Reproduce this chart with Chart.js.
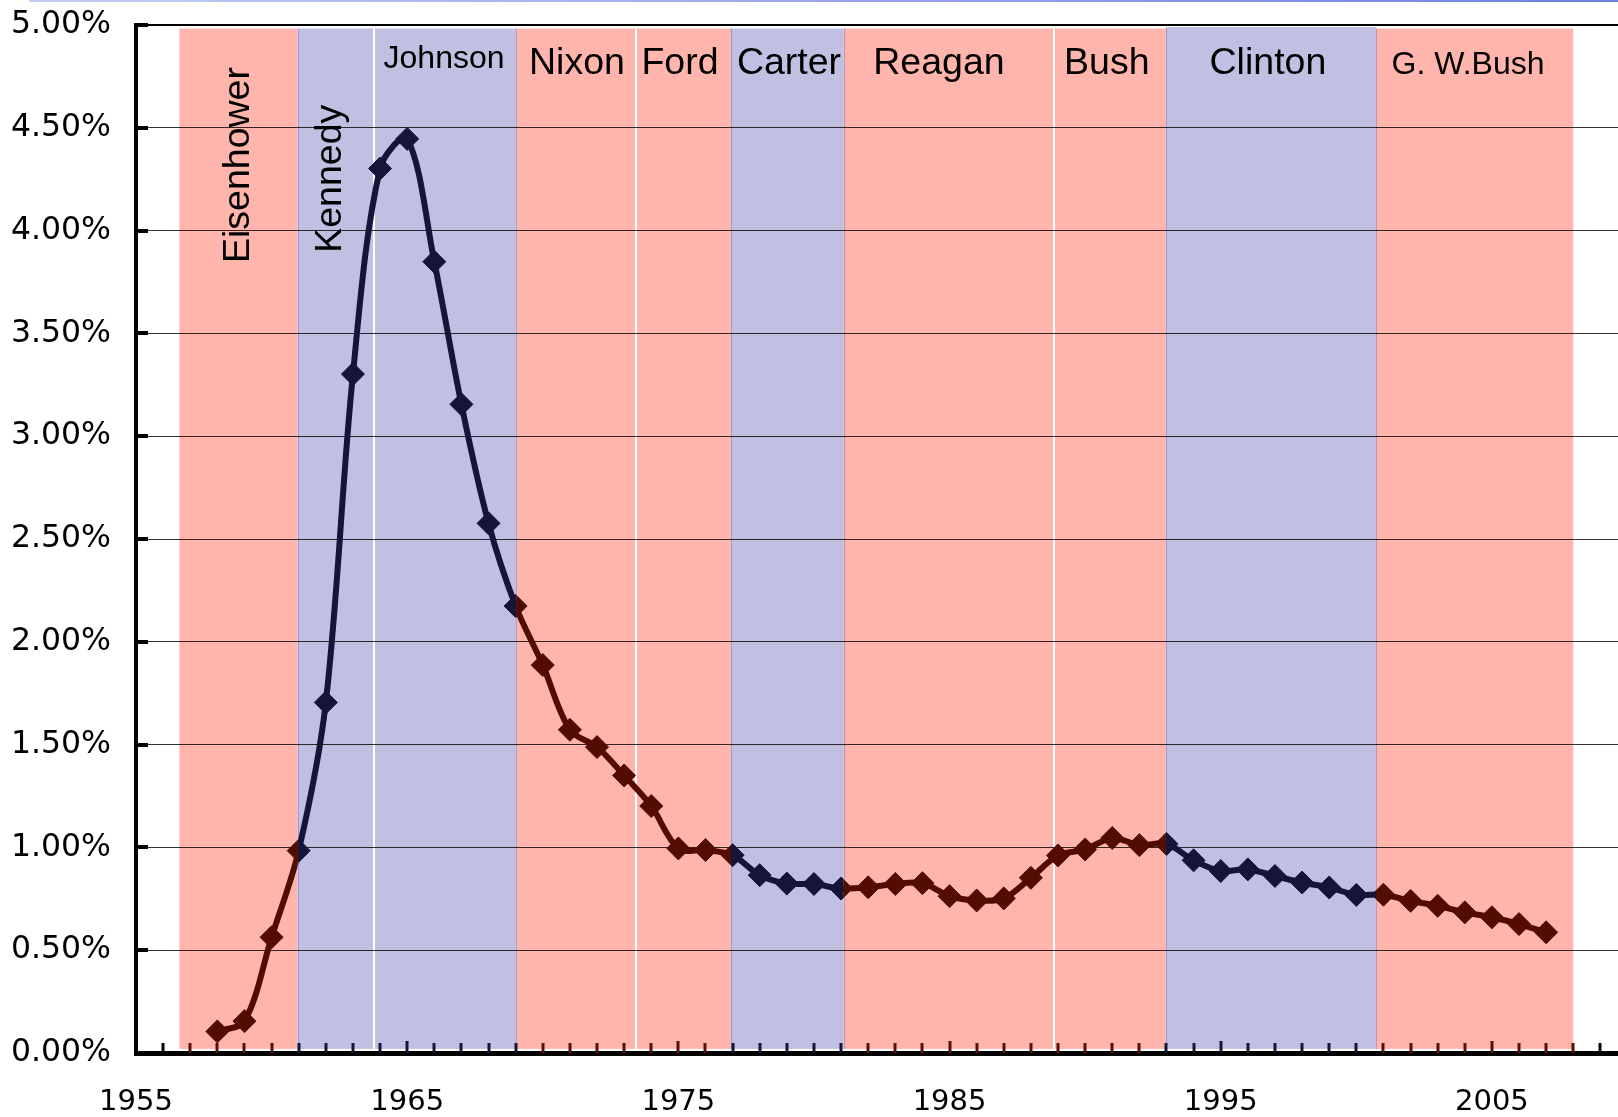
<!DOCTYPE html>
<html>
<head>
<meta charset="utf-8">
<script src="https://cdn.jsdelivr.net/npm/chart.js@4.4.1/dist/chart.umd.min.js"></script>
<style>
html,body{margin:0;padding:0;background:#fff;}
canvas{display:block;}
</style>
</head>
<body>
<canvas id="c" width="1618" height="1117"></canvas>
<script>
// ---- data ----
const years = [1958,1959,1960,1961,1962,1963,1964,1965,1966,1967,1968,1969,1970,1971,1972,1973,1974,1975,1976,1977,1978,1979,1980,1981,1982,1983,1984,1985,1986,1987,1988,1989,1990,1991,1992,1993,1994,1995,1996,1997,1998,1999,2000,2001,2002,2003,2004,2005,2006,2007];
const rates = [0.105,0.155,0.563,0.984,1.705,3.302,4.302,4.446,3.849,3.155,2.576,2.174,1.887,1.572,1.488,1.350,1.201,0.995,0.987,0.962,0.865,0.824,0.822,0.800,0.806,0.822,0.826,0.763,0.742,0.752,0.852,0.961,0.990,1.046,1.011,1.017,0.937,0.885,0.893,0.861,0.829,0.805,0.769,0.770,0.740,0.716,0.684,0.660,0.627,0.587];

const presidents = ['Eisenhower','Kennedy','Johnson','Nixon','Ford','Carter','Reagan','Bush','Clinton','G. W.Bush'];
const parties    = ['R','D','D','R','R','D','R','R','D','R'];
const termStart  = [1956.60,1960.96,1963.78,1969.03,1973.44,1976.94,1981.10,1988.87,1992.98,2000.73];
const termEnd    = [1960.96,1963.78,1969.03,1973.44,1976.94,1981.10,1988.87,1992.98,2000.73,2008.00];

const yTickValues = [0,0.5,1,1.5,2,2.5,3,3.5,4,4.5,5];
const yTickLabels = ['0.00%','0.50%','1.00%','1.50%','2.00%','2.50%','3.00%','3.50%','4.00%','4.50%','5.00%'];
const xTickValues = [1955,1965,1975,1985,1995,2005];
const xTickLabels = ['1955','1965','1975','1985','1995','2005'];

// ---- styling ----
const RED_BAND = '#ffb5ab';
const BLUE_BAND = '#c0c0e2';
const RED_LINE = '#520c00';
const BLUE_LINE = '#15153a';
const X_MIN = 1955, X_MAX = 2009.65;

const labelLayout = {
  'Eisenhower': {x:1959.17, y:4.319, rot:true,  size:37.5},
  'Kennedy':    {x:1962.56, y:4.252, rot:true,  size:37.5},
  'Johnson':    {x:1966.36, y:4.791, rot:false, size:32},
  'Nixon':      {x:1971.26, y:4.762, rot:false, size:37.5},
  'Ford':       {x:1975.06, y:4.762, rot:false, size:37.5},
  'Carter':     {x:1979.08, y:4.762, rot:false, size:37.5},
  'Reagan':     {x:1984.61, y:4.762, rot:false, size:37.5},
  'Bush':       {x:1990.80, y:4.762, rot:false, size:37.5},
  'Clinton':    {x:1996.74, y:4.762, rot:false, size:37.5},
  'G. W.Bush':  {x:2004.12, y:4.762, rot:false, size:32}
};
const bandTopValue = p => p === 'Clinton' ? 4.99 : 4.983;
const bandBottomValue = 0.02;

function partyAt(year){
  for (let i=0;i<termStart.length;i++){ if (year>=termStart[i] && year<=termEnd[i]) return parties[i]; }
  return null;
}

const bandsPlugin = {
  id:'bands',
  beforeDraw(chart){
    const {ctx, scales:{x,y}} = chart;
    ctx.save();
    const g = ctx.createLinearGradient(29,0,1618,0);
    g.addColorStop(0,'#c4cbf3'); g.addColorStop(1,'#7080e2');
    ctx.fillStyle = g; ctx.fillRect(29,0,1618-29,2);
    for (let i=0;i<presidents.length;i++){
      const x0 = x.getPixelForValue(termStart[i]), x1 = x.getPixelForValue(termEnd[i]);
      const y0 = y.getPixelForValue(bandTopValue(presidents[i])), y1 = y.getPixelForValue(bandBottomValue);
      ctx.fillStyle = parties[i]==='R' ? RED_BAND : BLUE_BAND;
      ctx.fillRect(x0, y0, x1-x0, y1-y0);
    }
    for (let i=1;i<presidents.length;i++){
      const bx = Math.round(x.getPixelForValue(termStart[i]));
      const y0 = y.getPixelForValue(Math.min(bandTopValue(presidents[i]),bandTopValue(presidents[i-1])));
      const y1 = y.getPixelForValue(bandBottomValue);
      if (parties[i]===parties[i-1]){
        ctx.fillStyle = '#ffffff'; ctx.fillRect(bx-1, y0, 2, y1-y0);
      } else {
        ctx.fillStyle = 'rgba(120,100,175,0.45)'; ctx.fillRect(bx, y0, 1, y1-y0);
      }
    }
    ctx.restore();
  },
  beforeDatasetsDraw(chart){
    const {ctx, scales:{x,y}} = chart;
    ctx.save();
    ctx.fillStyle = '#000';
    presidents.forEach(name=>{
      const L = labelLayout[name];
      const px = x.getPixelForValue(L.x), py = y.getPixelForValue(L.y);
      ctx.font = L.size + 'px "Liberation Sans", Arial, sans-serif';
      ctx.textAlign = 'center';
      ctx.textBaseline = 'alphabetic';
      if (L.rot){
        ctx.save(); ctx.translate(px, py); ctx.rotate(-Math.PI/2);
        ctx.fillText(name, 0, 0); ctx.restore();
      } else {
        ctx.fillText(name, px, py);
      }
    });
    ctx.fillStyle = '#000';
    const ax = chart.chartArea.left;
    yTickValues.forEach(v=>{
      const py = Math.round(y.getPixelForValue(v));
      ctx.fillRect(ax, py-2, 12, 4);
    });
    const by = chart.chartArea.bottom;
    for (let yr=Math.ceil(X_MIN)+1; yr<=Math.floor(X_MAX); yr++){
      const px = Math.round(x.getPixelForValue(yr));
      const p = partyAt(yr);
      ctx.fillStyle = p==='R' ? '#5a1008' : (p==='D' ? '#15153a' : '#000');
      const h = (yr % 10 === 5) ? 12 : 10;
      ctx.fillRect(px-1.5, by-h, 3, h);
    }
    ctx.restore();
  }
};

const clipPlugin = {
  id:'partyClip',
  beforeDatasetDraw(chart, args){
    const ds = chart.data.datasets[args.index];
    const {ctx, scales:{x}} = chart;
    ctx.save();
    ctx.beginPath();
    for (let i=0;i<presidents.length;i++){
      if (parties[i]!==ds.party) continue;
      const x0 = x.getPixelForValue(termStart[i]), x1 = x.getPixelForValue(termEnd[i]);
      ctx.rect(x0, 0, x1-x0, chart.height);
    }
    ctx.clip();
  },
  afterDatasetDraw(chart){
    chart.ctx.restore();
  }
};

const points = years.map((yr,i)=>({x:yr, y:rates[i]}));
function seriesFor(party, color){
  return {
    label: party==='R' ? 'Republican' : 'Democratic',
    party: party,
    data: points,
    borderColor: color,
    backgroundColor: color,
    borderWidth: 6,
    tension: 0.33,
    fill: false,
    clip: false,
    pointStyle: 'rectRot',
    pointRadius: 11.5,
    pointHoverRadius: 11.5,
    pointBorderWidth: 1,
    pointBackgroundColor: color,
    pointBorderColor: color
  };
}

new Chart(document.getElementById('c'), {
  type:'line',
  data:{ datasets:[ seriesFor('R', RED_LINE), seriesFor('D', BLUE_LINE) ] },
  plugins:[bandsPlugin, clipPlugin],
  options:{
    responsive:false,
    animation:false,
    devicePixelRatio:1,
    events:[],
    layout:{ autoPadding:false, padding:{ top:25, right:0, left:0, bottom:0 } },
    plugins:{ legend:{display:false}, tooltip:{enabled:false} },
    scales:{
      x:{
        type:'linear', min:X_MIN, max:X_MAX,
        afterBuildTicks(s){ s.ticks = xTickValues.map(v=>({value:v})); },
        afterFit(s){ s.height = 64; s.paddingLeft = 0; s.paddingRight = 0; },
        grid:{ display:false, drawTicks:false },
        border:{ display:true, width:5, color:'#000' },
        ticks:{
          autoSkip:false, maxRotation:0, includeBounds:false, padding:32,
          color:'#000', font:{ family:'"DejaVu Sans", Verdana, sans-serif', size:29 },
          callback:(v,i)=>xTickLabels[i]
        }
      },
      y:{
        type:'linear', min:0, max:5,
        afterBuildTicks(s){ s.ticks = yTickValues.map(v=>({value:v})); },
        afterFit(s){ s.width = 136; s.paddingTop = 0; s.paddingBottom = 0; },
        grid:{
          drawTicks:false,
          color:(c)=> c.tick && c.tick.value===5 ? '#000' : 'rgba(0,0,0,0.8)',
          lineWidth:(c)=> c.tick && c.tick.value===5 ? 2 : 1
        },
        border:{ display:true, width:4, color:'#000' },
        ticks:{
          padding:25, color:'#000',
          font:{ family:'"DejaVu Sans", Verdana, sans-serif', size:31.5 },
          callback:(v,i)=>yTickLabels[i]
        }
      }
    }
  }
});
</script>
</body>
</html>
